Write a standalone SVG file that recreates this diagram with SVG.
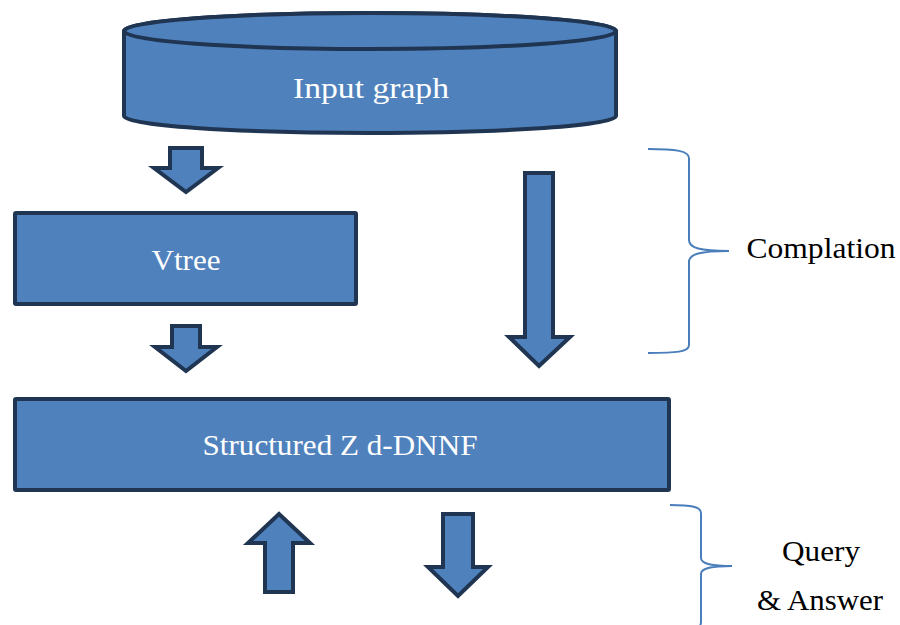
<svg xmlns="http://www.w3.org/2000/svg" width="900" height="625" viewBox="0 0 900 625">
<style>
.shape{fill:#4F81BD;stroke:#1F3552;stroke-width:4;stroke-linejoin:miter}
.lbl{font-family:"Liberation Serif","Times New Roman",serif;font-size:29px;text-anchor:middle}
.in{fill:#FFFFFF}
.out{fill:#000000}
.brace{fill:none;stroke:#4A7EBB;stroke-width:2}
</style>
<rect width="900" height="625" fill="#FFFFFF"/>
<g id="input-graph">
<path class="shape" d="M124,31 L124,116 A246,17 0 0 0 616,116 L616,31 A246,18 0 0 0 124,31 Z"/>
<ellipse class="shape" cx="370" cy="31" rx="246" ry="18"/>
<text class="lbl in" x="371" y="98" textLength="156" lengthAdjust="spacingAndGlyphs">Input graph</text>
</g>
<g id="vtree">
<rect class="shape" x="15" y="213" width="341" height="91" rx="1"/>
<text class="lbl in" x="186" y="270" textLength="69" lengthAdjust="spacingAndGlyphs">Vtree</text>
</g>
<g id="sdd">
<rect class="shape" x="15" y="399" width="654" height="91" rx="1"/>
<text class="lbl in" x="340" y="455" textLength="275" lengthAdjust="spacingAndGlyphs">Structured Z d-DNNF</text>
</g>
<g id="connectors">
<path class="shape" d="M170,148 L202,148 L202,168 L218,168 L186,192 L154,168 L170,168 Z"/>
<path class="shape" d="M172,326 L200,326 L200,347 L217,347 L186,371 L155,347 L172,347 Z"/>
<path class="shape" d="M525,173 L553,173 L553,337 L570,337 L539,366 L509,337 L525,337 Z"/>
<path class="shape" d="M279,514 L310,543 L293,543 L293,592 L265,592 L265,543 L248,543 Z"/>
<path class="shape" d="M443,514 L473,514 L473,567 L488,567 L458,596 L428,567 L443,567 Z"/>
</g>
<g id="compilation-brace">
<path class="brace" d="M648,149 C676,149 689,151 689,158 L689,240 C689,248 700,251 729,251 C700,251 689,254 689,262 L689,345 C689,352 676,353 648,353"/>
<text class="lbl out" x="821" y="258" textLength="149" lengthAdjust="spacingAndGlyphs">Complation</text>
</g>
<g id="query-brace">
<path class="brace" d="M670,505 C692,505 701,507 701,513 L701,558 C701,564 712,566 732,566 C712,566 701,568 701,574 L701,622 C701,630 692,632 670,632"/>
<text class="lbl out" x="821" y="561" textLength="78" lengthAdjust="spacingAndGlyphs">Query</text>
<text class="lbl out" x="820" y="610" textLength="126" lengthAdjust="spacingAndGlyphs">&amp; Answer</text>
</g>
</svg>
